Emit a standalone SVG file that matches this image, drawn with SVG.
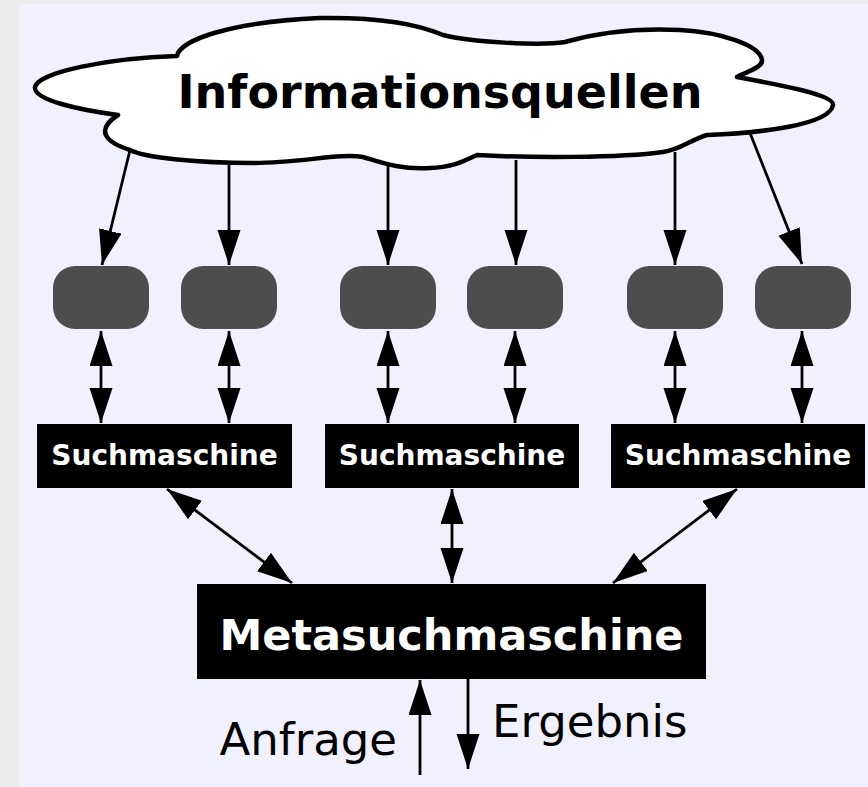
<svg xmlns="http://www.w3.org/2000/svg" width="868" height="787" viewBox="0 0 868 787">
<style>
.cn{stroke:#000;stroke-width:2.8;fill:none}
.src{fill:#4d4d4d}
.box{fill:#000}
.bt{fill:#fff;font-family:"DejaVu Sans",sans-serif;font-weight:bold;text-anchor:middle}
.lt{fill:#000;font-family:"DejaVu Sans",sans-serif;font-size:45px}
</style>
<defs>
<marker id="ah" markerUnits="userSpaceOnUse" markerWidth="36" markerHeight="24" refX="35" refY="11.5" orient="auto-start-reverse" viewBox="0 0 36 24">
<path d="M0,0 L35,11.5 L0,23 Z" fill="#000"/>
</marker>
</defs>
<rect x="0" y="0" width="868" height="787" fill="#ececec"/>
<rect x="19" y="4" width="849" height="783" fill="#f1f1fe"/>
<g id="cloud">
<path d="M35,87 C38,72 110,58 177,56 C180,40 230,22 320,18 C380,17 420,25 443,35 C470,42 540,46 565,42 C600,32 640,28 680,30 C720,32 760,45 762,60 C763,68 745,72 737,77 C780,85 835,95 833,105 C830,125 760,133 707,135 C690,140 680,150 663,152 C620,158 530,158 477,155 C465,160 455,167 430,168 C400,170 380,162 363,157 C340,153 300,163 253,163 C200,163 145,158 130,150 C105,142 95,130 118,115 C80,110 33,100 35,87 Z" fill="#fff" stroke="#000" stroke-width="4.5" stroke-linejoin="round"/>
<text x="440" y="108" class="bt" style="fill:#000;font-size:46px">Informationsquellen</text>
</g>
<g id="src1"><rect class="src" x="53" y="266" width="96" height="63" rx="22"/></g>
<g id="src2"><rect class="src" x="181" y="266" width="96" height="63" rx="22"/></g>
<g id="src3"><rect class="src" x="340" y="266" width="96" height="63" rx="22"/></g>
<g id="src4"><rect class="src" x="467" y="266" width="96" height="63" rx="22"/></g>
<g id="src5"><rect class="src" x="627" y="266" width="96" height="63" rx="22"/></g>
<g id="src6"><rect class="src" x="755" y="266" width="96" height="63" rx="22"/></g>
<g id="sm1"><rect class="box" x="37" y="424" width="255" height="64"/><text class="bt" x="164.5" y="465" font-size="28">Suchmaschine</text></g>
<g id="sm2"><rect class="box" x="325" y="424" width="254" height="64"/><text class="bt" x="452" y="465" font-size="28">Suchmaschine</text></g>
<g id="sm3"><rect class="box" x="611" y="424" width="254" height="64"/><text class="bt" x="738" y="465" font-size="28">Suchmaschine</text></g>
<g id="meta"><rect class="box" x="197" y="584" width="509" height="95"/><text class="bt" x="451.5" y="650" font-size="43">Metasuchmaschine</text></g>
<g id="connectors">
<line class="cn" x1="130" y1="150" x2="102" y2="265" marker-end="url(#ah)"/>
<line class="cn" x1="229" y1="163" x2="229" y2="265" marker-end="url(#ah)"/>
<line class="cn" x1="388" y1="165" x2="388" y2="265" marker-end="url(#ah)"/>
<line class="cn" x1="516" y1="160" x2="516" y2="265" marker-end="url(#ah)"/>
<line class="cn" x1="675" y1="152" x2="675" y2="265" marker-end="url(#ah)"/>
<line class="cn" x1="750" y1="133" x2="802" y2="264" marker-end="url(#ah)"/>
<line class="cn" x1="101" y1="331" x2="101" y2="423" marker-start="url(#ah)" marker-end="url(#ah)"/>
<line class="cn" x1="229" y1="331" x2="229" y2="423" marker-start="url(#ah)" marker-end="url(#ah)"/>
<line class="cn" x1="388" y1="331" x2="388" y2="423" marker-start="url(#ah)" marker-end="url(#ah)"/>
<line class="cn" x1="515" y1="331" x2="515" y2="423" marker-start="url(#ah)" marker-end="url(#ah)"/>
<line class="cn" x1="675" y1="331" x2="675" y2="423" marker-start="url(#ah)" marker-end="url(#ah)"/>
<line class="cn" x1="802" y1="331" x2="802" y2="423" marker-start="url(#ah)" marker-end="url(#ah)"/>
<line class="cn" x1="167" y1="489" x2="292" y2="583" marker-start="url(#ah)" marker-end="url(#ah)"/>
<line class="cn" x1="452" y1="489" x2="452" y2="583" marker-start="url(#ah)" marker-end="url(#ah)"/>
<line class="cn" x1="737" y1="489" x2="613" y2="583" marker-start="url(#ah)" marker-end="url(#ah)"/>
<line class="cn" x1="420" y1="775" x2="420" y2="680" marker-end="url(#ah)"/>
<line class="cn" x1="468" y1="679" x2="468" y2="769" marker-end="url(#ah)"/>
</g>
<text class="lt" x="397" y="755" text-anchor="end">Anfrage</text>
<text class="lt" x="492" y="737">Ergebnis</text>
</svg>
